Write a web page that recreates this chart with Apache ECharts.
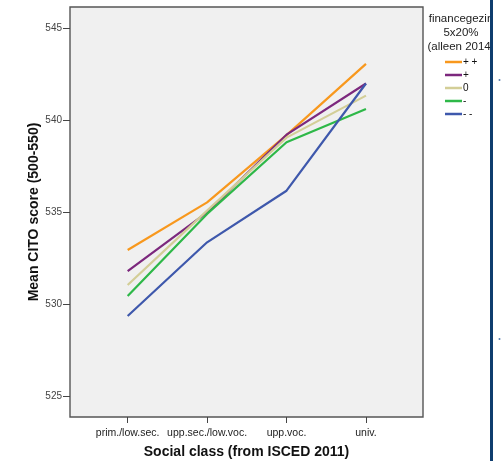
<!DOCTYPE html>
<html>
<head>
<meta charset="utf-8">
<script src="https://cdn.jsdelivr.net/npm/echarts@6/dist/echarts.min.js"></script>
<style>
html,body{margin:0;padding:0;background:#fff;}
#chart{width:501px;height:461px;}
</style>
</head>
<body>
<div id="chart"></div>
<script>
var categories = ['prim./low.sec.', 'upp.sec./low.voc.', 'upp.voc.', 'univ.'];
var yTicks = [525, 530, 535, 540, 545];
var seriesNames = ['+ +', '+', '0', '-', '- -'];
var seriesColors = ['#F8981D', '#7C287D', '#D3CE97', '#2EB848', '#3E58AC'];
var valsPlusPlus = [532.96, 535.55, 539.2, 543.06];
var valsPlus = [531.82, 535.0, 539.22, 542.0];
var valsZero = [531.06, 535.1, 539.06, 541.34];
var valsMinus = [530.47, 534.92, 538.81, 540.62];
var valsMinusMinus = [529.38, 533.38, 536.18, 542.0];
var seriesValues = [valsPlusPlus, valsPlus, valsZero, valsMinus, valsMinusMinus];

var FONT = 'Liberation Sans, Arial, sans-serif';
var chart = echarts.init(document.getElementById('chart'), null, {renderer: 'canvas'});

var series = seriesNames.map(function (name, i) {
  return {
    name: name,
    type: 'line',
    symbol: 'none',
    z: 2 + i,
    lineStyle: {color: seriesColors[i], width: 2.2},
    itemStyle: {color: seriesColors[i]},
    data: seriesValues[i].map(function (v, j) { return [j, v]; })
  };
});

chart.setOption({
  backgroundColor: '#ffffff',
  animation: false,
  textStyle: {fontFamily: FONT},
  grid: {
    left: 70, top: 7, right: 78, bottom: 44,
    outerBoundsMode: 'none', containLabel: false,
    show: true, backgroundColor: '#f0f0f0', borderColor: '#555', borderWidth: 1.4
  },
  title: {
    text: 'financegezin\n5x20%\n(alleen 2014)',
    left: 461, top: 12, padding: 0, textAlign: 'center',
    textStyle: {fontFamily: FONT, fontSize: 11.5, fontWeight: 'normal', color: '#222', lineHeight: 13.8}
  },
  legend: {
    orient: 'vertical',
    left: 445, top: 57, padding: 0,
    icon: 'rect',
    itemWidth: 17, itemHeight: 2.5, itemGap: 3,
    textStyle: {fontFamily: FONT, fontSize: 10, color: '#111', padding: [0, 0, 0, -4]},
    data: seriesNames
  },
  xAxis: {
    type: 'value',
    min: -0.726, max: 3.718,
    name: 'Social class (from ISCED 2011)',
    nameLocation: 'middle', nameGap: 28, nameMoveOverlap: false,
    nameTextStyle: {fontFamily: FONT, fontSize: 14, fontWeight: 'bold', color: '#111'},
    axisLine: {show: false, onZero: false},
    splitLine: {show: false},
    axisTick: {show: true, customValues: [0, 1, 2, 3], length: 6, lineStyle: {color: '#444', width: 1}},
    axisLabel: {
      customValues: [0, 1, 2, 3], margin: 11,
      fontFamily: FONT, fontSize: 10.5, color: '#222',
      formatter: function (v) { return categories[Math.round(v)] || ''; }
    }
  },
  yAxis: {
    type: 'value',
    min: 523.9, max: 546.15,
    name: 'Mean CITO score (500-550)',
    nameLocation: 'middle', nameGap: 29, nameRotate: 90, nameMoveOverlap: false,
    nameTextStyle: {fontFamily: FONT, fontSize: 14, fontWeight: 'bold', color: '#111'},
    axisLine: {show: false, onZero: false},
    splitLine: {show: false},
    axisTick: {show: true, customValues: yTicks, length: 7, lineStyle: {color: '#444', width: 1}},
    axisLabel: {
      customValues: yTicks, margin: 8,
      fontFamily: FONT, fontSize: 10, color: '#444'
    }
  },
  graphic: [
    {type: 'rect', shape: {x: 490, y: 0, width: 3, height: 461}, style: {fill: '#0f3d6e'}, z: 100},
    {type: 'rect', shape: {x: 493, y: 0, width: 8, height: 461}, style: {fill: '#ffffff'}, z: 100},
    {type: 'circle', shape: {cx: 499.5, cy: 80, r: 1}, style: {fill: '#5a7fb0'}, z: 101},
    {type: 'circle', shape: {cx: 499.5, cy: 339, r: 1}, style: {fill: '#5a7fb0'}, z: 101}
  ],
  series: series
});
</script>
</body>
</html>
